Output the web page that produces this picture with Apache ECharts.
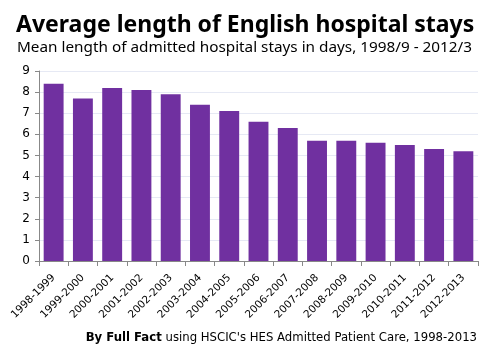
<!DOCTYPE html>
<html><head><meta charset="utf-8">
<script src="https://cdn.jsdelivr.net/npm/echarts@6/dist/echarts.min.js"></script>
<style>html,body{margin:0;padding:0;background:#fff}#c{width:495px;height:362px}</style>
</head><body><div id="c"></div>
<script>
const categories = ["1998-1999","1999-2000","2000-2001","2001-2002","2002-2003","2003-2004","2004-2005","2005-2006","2006-2007","2007-2008","2008-2009","2009-2010","2010-2011","2011-2012","2012-2013"];
const values = [8.4,7.7,8.2,8.1,7.9,7.4,7.1,6.6,6.3,5.7,5.7,5.6,5.5,5.3,5.2];
const yTicks = [0,1,2,3,4,5,6,7,8,9];
const chart = echarts.init(document.getElementById('c'), null, {renderer:'canvas'});
chart.setOption({
  animation:false,
  title:[
    {text:'Average length of English hospital stays', left:16, top:14, padding:0, textStyle:{fontFamily:'Noto Sans', fontWeight:'bold', fontSize:23, color:'#000'}},
    {text:'Mean length of admitted hospital stays in days, 1998/9 - 2012/3', left:17, top:40, padding:0, textStyle:{fontFamily:'Noto Sans', fontWeight:'normal', fontSize:15.3, color:'#000'}},
    {text:'{b|By Full Fact} using HSCIC\'s HES Admitted Patient Care, 1998-2013', right:18, top:332, padding:0, textStyle:{fontFamily:'DejaVu Sans', fontWeight:'normal', fontSize:11.7, color:'#000', rich:{b:{fontFamily:'DejaVu Sans', fontWeight:'bold', fontSize:11.7, color:'#000'}}}}
  ],
  grid:{left:39, right:17, top:71, bottom:101, containLabel:false},
  xAxis:{type:'category', data:categories,
    axisLine:{lineStyle:{color:'#888'}},
    axisTick:{show:true, alignWithLabel:false, length:5, lineStyle:{color:'#888'}},
    axisLabel:{rotate:45, interval:0, fontFamily:'DejaVu Sans', fontSize:10.5, color:'#000', margin:15}
  },
  yAxis:{type:'value', min:0, max:9, interval:1,
    axisLine:{show:true, lineStyle:{color:'#888'}},
    axisTick:{show:true, length:4, lineStyle:{color:'#888'}},
    splitLine:{lineStyle:{color:'#e6e9f4', width:1}},
    axisLabel:{fontFamily:'DejaVu Sans', fontSize:12, color:'#000', margin:9,
      formatter:v=>yTicks.includes(v)?String(v):''}
  },
  series:[{type:'bar', data:values, barCategoryGap:'32%', itemStyle:{color:'#7030A0'}}]
});
</script></body></html>
